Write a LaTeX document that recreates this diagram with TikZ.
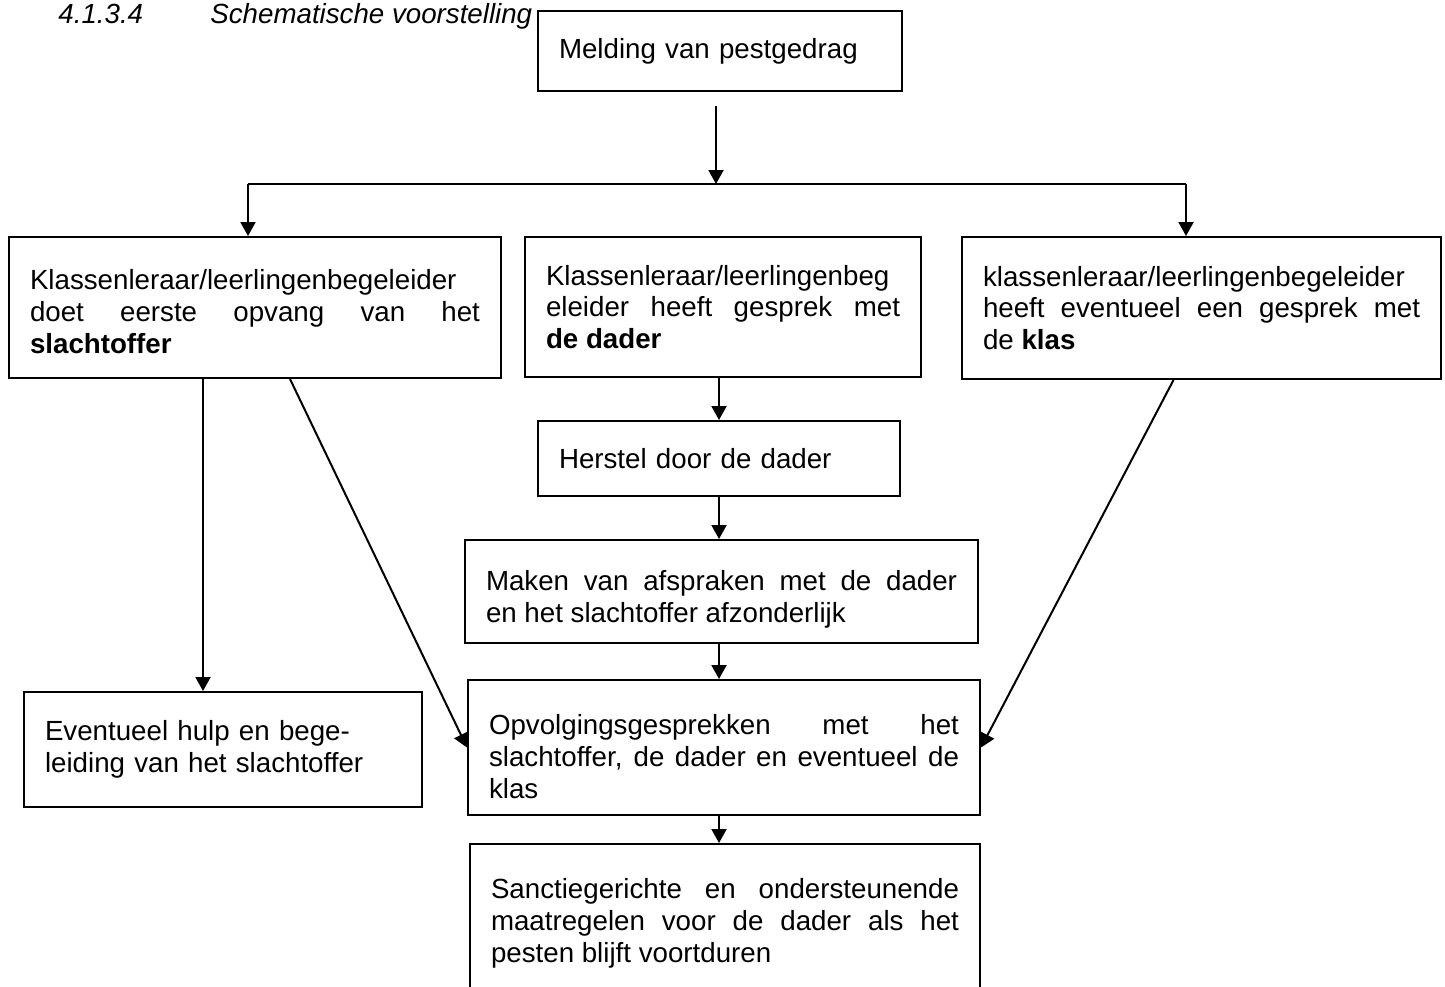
\documentclass[tikz,border=0pt]{standalone}
\usepackage{fontspec}
\setmainfont{Liberation Sans}
\usepackage{tikz}
\usetikzlibrary{arrows.meta, positioning}
\tikzstyle{arrow} = [line width=1pt,-{Triangle[length=7pt,width=7.5pt]}]
\tikzstyle{blok} = [draw, line width=1pt, anchor=north west, inner xsep=10.5pt, inner ysep=0pt, align=justify, font=\fontsize{13.85}{15.95}\selectfont]
\tikzstyle{kop} = [anchor=base west, inner sep=0pt, font=\fontsize{13.85}{15.95}\selectfont\itshape]
\setlength{\parindent}{0pt}
\tolerance=9999
\hbadness=10000
\hyphenpenalty=10000
% hogere eerste regel: schuift de tekst in een blok iets omlaag
\newcommand{\omlaag}[1]{\rule{0pt}{#1}}

\begin{document}
\begin{tikzpicture}[x=0.5pt,y=-0.5pt]
	\useasboundingbox (0,0) rectangle (1445,986);
	
	% Titel:
	\node[kop] (nummer) at (58,23) {4.1.3.4};
	\node[kop] (titel) at (210,23) {Schematische voorstelling};
	
	% Blokken:
	% Elk blok staat met zijn linkerbovenhoek op een vaste plaats
	\node[blok, text width=161pt, minimum height=40pt, align=left] (melding) at (537,10) {Melding van pestgedrag};
	
	\node[blok, text width=225pt, minimum height=70.5pt] (slachtoffer) at (8,236) {\omlaag{14pt}Klassenleraar/leerlingenbegeleider\linebreak doet eerste opvang van het\linebreak \textbf{slachtoffer}};
	\node[blok, text width=177pt, minimum height=70pt] (dader) at (524,236) {Klassenleraar/leerlingenbeg\linebreak eleider heeft gesprek met\linebreak \textbf{de dader}};
	\node[blok, text width=218.5pt, minimum height=71pt] (klas) at (961,236) {klassenleraar/leerlingenbegeleider\linebreak heeft eventueel een gesprek met\linebreak de \textbf{klas}};
	
	\node[blok, text width=160pt, minimum height=37.5pt, align=left] (herstel) at (537,420) {Herstel door de dader};
	\node[blok, text width=235.5pt, minimum height=51.5pt] (afspraken) at (464,539) {\omlaag{18pt}Maken van afspraken met de dader\linebreak en het slachtoffer afzonderlijk};
	\node[blok, text width=235pt, minimum height=67.5pt] (opvolging) at (467,679) {\omlaag{19pt}Opvolgingsgesprekken met het\linebreak slachtoffer, de dader en eventueel de\linebreak klas};
	\node[blok, text width=234pt, minimum height=79pt] (sanctie) at (469,843) {Sanctiegerichte en ondersteunende\linebreak maatregelen voor de dader als het\linebreak pesten blijft voortduren};
	
	\node[blok, text width=178pt, minimum height=57.5pt, align=left] (hulp) at (23,691) {Eventueel hulp en bege-\\leiding van het slachtoffer};
	
	% Pijlen:
	% De splitsing onder de melding loopt via drie hulppunten
	\coordinate (splits) at (716,184);
	\coordinate (links) at (248,184);
	\coordinate (rechts) at (1186,184);
	\draw[arrow] (melding.south -| splits) ++(0,14) -- (splits);
	\draw[line width=1pt] (links) -- (rechts);
	\draw[arrow] (links) -- (links |- slachtoffer.north);
	\draw[arrow] (rechts) -- (rechts |- klas.north);
	
	% Middelste kolom
	\draw[arrow] (dader.south -| herstel.north) -- (herstel.north);
	\draw[arrow] (herstel.south) -- (herstel.south |- afspraken.north);
	\draw[arrow] (afspraken.south -| herstel.south) -- (herstel.south |- opvolging.north);
	\draw[arrow] (opvolging.south -| herstel.south) -- (herstel.south |- sanctie.north);
	
	% Zijtakken
	\coordinate (hulpin) at ([xshift=-10pt]hulp.north);
	\draw[arrow] (slachtoffer.south -| hulpin) -- (hulpin);
	\draw[arrow] ([xshift=17.5pt]slachtoffer.south) -- (opvolging.west);
	\draw[arrow] ([xshift=-14pt]klas.south) -- (opvolging.east);
	
\end{tikzpicture}
\end{document}
